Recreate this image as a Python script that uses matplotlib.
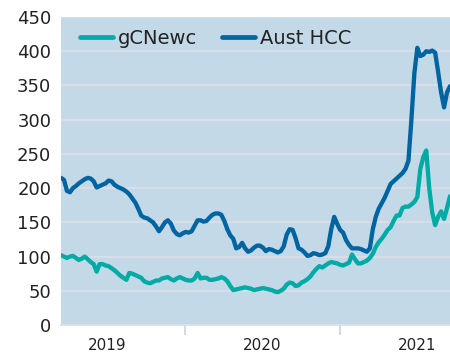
import numpy as np
import pandas as pd
import matplotlib
matplotlib.use("Agg")
import matplotlib.pyplot as plt
import matplotlib.dates as mdates

# Weekly coal prices, US$/t
weeks = pd.date_range("2019-03-15", periods=132, freq="7D")

gcnewc = [
    102, 100, 98, 100, 101, 98, 95, 97, 100, 96,
    92, 89, 78, 89, 89, 87, 86, 83, 80, 76,
    72, 69, 66, 76, 75, 73, 71, 69, 64, 62,
    61, 63, 65, 65, 68, 69, 70, 67, 65, 68,
    70, 68, 66, 65, 65, 68, 76, 68, 69, 69,
    66, 66, 67, 68, 70, 68, 64, 57, 51, 52,
    53, 54, 55, 54, 53, 51, 52, 53, 54, 53,
    52, 51, 49, 48, 50, 53, 59, 62, 61, 57,
    58, 62, 64, 67, 71, 77, 82, 86, 84, 87,
    90, 92, 91, 90, 88, 87, 89, 91, 103, 96,
    90, 90, 92, 94, 98, 104, 114, 121, 126, 132,
    139, 143, 152, 160, 160, 171, 173, 173, 176, 180,
    187, 228, 245, 255, 200, 165, 146, 158, 166, 155,
    171, 188,
]

aust_hcc = [
    215, 212, 196, 194, 200, 203, 207, 210, 213, 215,
    214, 210, 201, 203, 205, 207, 211, 210, 205, 202,
    200, 198, 195, 191, 185, 179, 170, 160, 157, 156,
    153, 150, 144, 137, 143, 150, 153, 148, 138, 133,
    131, 134, 136, 135, 137, 145, 153, 153, 151, 152,
    157, 161, 163, 163, 161, 152, 140, 131, 126, 112,
    114, 120, 112, 107, 109, 113, 116, 116, 113, 108,
    111, 110, 108, 106, 108, 115, 132, 140, 139, 127,
    112, 110, 106, 101, 102, 105, 104, 102, 103, 105,
    115, 140, 158, 148, 139, 135, 124, 117, 112, 112,
    112, 111, 109, 107, 112, 140, 158, 170, 178, 186,
    196, 206, 210, 214, 218, 222, 228, 240, 300, 368,
    405, 393, 395, 400, 399, 401, 398, 370, 340, 318,
    340, 349,
]

yticks = list(range(0, 451, 50))

teal = "#00aaa5"
navy = "#0064a0"
panel = "#c3d9e8"
grid = "#dcdfe6"

fig = plt.figure(figsize=(4.5, 3.55), dpi=100)
ax = fig.add_axes([0.1356, 0.0845, 0.8644, 0.8675])
ax.set_facecolor(panel)

ax.plot(weeks, gcnewc, color=teal, lw=3.1, label="gCNewc", zorder=4,
        solid_joinstyle="round", solid_capstyle="round")
ax.plot(weeks, aust_hcc, color=navy, lw=3.1, label="Aust HCC", zorder=3,
        solid_joinstyle="round", solid_capstyle="round")

ax.set_xlim(weeks[0], weeks[-1])
ax.set_ylim(0, 450)
ax.set_yticks(yticks)
ax.yaxis.grid(True, color=grid, lw=1.3, zorder=1)
ax.set_axisbelow(True)

for s in ["top", "right", "left"]:
    ax.spines[s].set_visible(False)
ax.spines["bottom"].set_color(grid)
ax.spines["bottom"].set_linewidth(1.3)

ax.tick_params(axis="y", length=0, pad=7, labelsize=13, labelcolor="#222222")

# year boundaries get a tick, year names sit mid-year
ax.xaxis.set_major_locator(mdates.YearLocator())
ax.xaxis.set_major_formatter(plt.NullFormatter())
ax.xaxis.set_minor_locator(mdates.MonthLocator(bymonth=7, bymonthday=1))
ax.xaxis.set_minor_formatter(mdates.DateFormatter("%Y"))
ax.tick_params(axis="x", which="major", length=7, width=1.2, color="#cdd3db")
ax.tick_params(axis="x", which="minor", length=0, pad=9, labelsize=11,
               labelcolor="#222222")

leg = ax.legend(loc="upper left", ncol=2, frameon=False, fontsize=14,
                handlelength=1.7, handletextpad=0.25, columnspacing=1.3,
                borderaxespad=0.2, bbox_to_anchor=(0.018, 1.0))
for t in leg.get_texts():
    t.set_color("#222222")
for h in leg.legend_handles:
    h.set_linewidth(3.4)

fig.savefig("out.png", dpi=100, facecolor="white")
